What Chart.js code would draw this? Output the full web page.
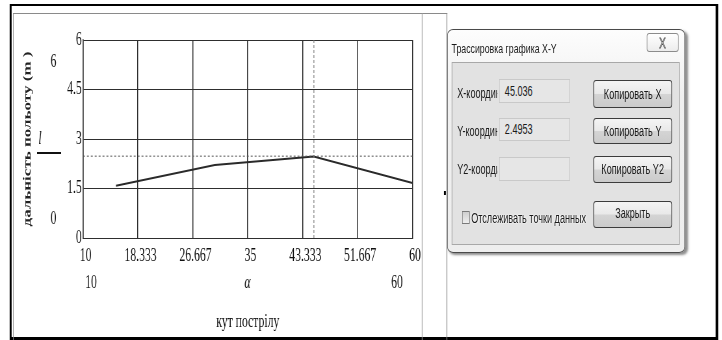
<!DOCTYPE html>
<html>
<head>
<meta charset="utf-8">
<title>дальність польоту</title>
<script src="https://cdn.jsdelivr.net/npm/chart.js@4.4.1/dist/chart.umd.min.js"></script>
<style>
  html, body { margin: 0; padding: 0; background: #fff; }
  body { width: 722px; height: 340px; overflow: hidden; position: relative; }
  /* everything is laid out 1/0.65 wider, then squeezed horizontally */
  #page { position: absolute; left: 0; top: 0; width: 1110.8px; height: 340px; transform: scaleX(0.65); transform-origin: 0 0; }
  #outer { position: absolute; left: 14.6px; top: 4px; width: 1090px; height: 336px; box-sizing: border-box;
           border-style: solid; border-color: #000; border-width: 2.5px 4.6px 3px 3px; }
  #region { position: absolute; left: 20px; top: 13px; width: 667.7px; height: 340px; box-sizing: border-box;
            border: 1px solid #8a8a8a; border-left-width: 1.5px; border-right-width: 1.5px; border-bottom: none; }
  #vline { position: absolute; left: 648.5px; top: 13px; width: 1.5px; height: 330px; background: #9a9a9a; }
  #dot { position: absolute; left: 683px; top: 191px; width: 3px; height: 4px; background: #000; }
  #myChart { position: absolute; left: 0; top: 0; }

  #dlg { position: absolute; left: 687.7px; top: 29px; width: 366px; height: 224px; box-sizing: border-box;
         border: 1px solid #4a4a4a; border-left-width: 1.5px; border-right-width: 1.5px; border-radius: 9px / 6px;
         background: linear-gradient(#fdfdfd, #f0f0f0 30%, #eeeeee); box-shadow: 3px 2px 3px rgba(0,0,0,0.45);
         font-family: "Liberation Sans", Arial, sans-serif; font-size: 14px; color: #1a1a1a; }
  #dlg .caption { position: absolute; left: 6px; top: 10px; line-height: 18px; font-size: 13.5px; white-space: nowrap; }
  #dlg .close { position: absolute; left: 306px; top: 3px; width: 49px; height: 19px; box-sizing: border-box;
                border: 1px solid #8c8c8c; border-radius: 4px / 3px; background: linear-gradient(#ffffff, #ececec);
                text-align: center; line-height: 17px; font-size: 15px; color: transparent; -webkit-text-stroke: 0.8px #555; }
  #dlg .panel { position: absolute; left: 6px; top: 32px; width: 351px; height: 183px; box-sizing: border-box;
                border: 1px solid #a8a8a8; background: #e2e2e2; }
  .lbl { position: absolute; left: 7.7px; width: 61.5px; overflow: hidden; white-space: nowrap; line-height: 18px; }
  .box { position: absolute; left: 72.3px; width: 109.2px; box-sizing: border-box; border: 1px solid #c9c9c9;
         background: #e6e6e6; padding-left: 7.7px; white-space: nowrap; }
  .btn { position: absolute; left: 216.9px; width: 121.5px; box-sizing: border-box; border: 1px solid #3c3c3c;
         border-left-width: 1.5px; border-right-width: 1.5px; border-radius: 4px / 3px; text-align: center; white-space: nowrap;
         background: linear-gradient(#f4f4f4, #e9e9e9 48%, #d4d4d4 52%, #cbcbcb); }
  .chk { position: absolute; left: 15.4px; top: 148px; width: 12.3px; height: 13px; box-sizing: border-box;
         border: 1px solid #7a7a7a; border-left-width: 1.5px; border-right-width: 1.5px; background: linear-gradient(#cfcfcf, #eeeeee); }
  .chktext { position: absolute; left: 29.2px; top: 146px; line-height: 18px; white-space: nowrap; text-shadow: 0 0 3px #fff, 0 0 2px #fff; }
</style>
</head>
<body>
<div id="page">
  <div id="outer"></div>
  <div id="region"></div>
  <div id="vline"></div>
  <canvas id="myChart" width="660" height="340"></canvas>
  <div id="dot"></div>
  <div id="dlg">
    <div class="caption">Трассировка графика X-Y</div>
    <div class="close">X</div>
    <div class="panel">
      <div class="lbl" style="top:21px">X-координата:</div>
      <div class="lbl" style="top:59px">Y-координата:</div>
      <div class="lbl" style="top:97px">Y2-координата:</div>
      <div class="box" id="boxX" style="top:16px;height:24px;line-height:22px"></div>
      <div class="box" id="boxY" style="top:55px;height:23px;line-height:21px"></div>
      <div class="box" style="top:94px;height:24px"></div>
      <div class="btn" style="top:17px;height:28px;line-height:26px">Копировать X</div>
      <div class="btn" style="top:55px;height:26px;line-height:24px">Копировать Y</div>
      <div class="btn" style="top:93px;height:27px;line-height:25px">Копировать Y2</div>
      <div class="btn" style="top:138px;height:27px;line-height:23px">Закрыть</div>
      <div class="chk"></div>
      <div class="chktext">Отслеживать точки данных</div>
    </div>
  </div>
</div>
<script>
// кут пострілу (deg) -> дальність польоту (m)
const angles = [15, 30, 45, 60];
const ranges = [1.58, 2.21, 2.47, 1.67];

const xTickLabels = ["10", "18.333", "26.667", "35", "43.333", "51.667", "60"];
const yTickLabels = ["0", "1.5", "3", "4.5", "6"];

// mathcad placeholders around the plot
const xRangeLabels = ["10", "60"];
const yRangeLabels = ["6", "0"];

// trace cursor position
const cursorX = 45.036;
const cursorY = 2.4953;

document.querySelector("#boxX").textContent = cursorX.toFixed(3);
document.querySelector("#boxY").textContent = cursorY.toFixed(4);

const serif = '"Liberation Serif", "Times New Roman", serif';

const traceLines = {
    id: "traceLines",
    afterDatasetsDraw(chart) {
        const { ctx, chartArea, scales } = chart;
        const px = scales.x.getPixelForValue(cursorX);
        const py = scales.y.getPixelForValue(cursorY);
        ctx.save();
        ctx.strokeStyle = "#555";
        ctx.setLineDash([3, 3]);
        ctx.lineWidth = 1;
        ctx.beginPath();
        ctx.moveTo(chartArea.left, py + 0.5);
        ctx.lineTo(chartArea.right, py + 0.5);
        ctx.stroke();
        ctx.strokeStyle = "#777";
        ctx.setLineDash([3, 2]);
        ctx.lineWidth = 1.2;
        ctx.beginPath();
        ctx.moveTo(px, chartArea.top);
        ctx.lineTo(px, chartArea.bottom);
        ctx.stroke();
        ctx.restore();
    },
};

const extraLabels = {
    id: "extraLabels",
    afterDraw(chart) {
        const ctx = chart.ctx;
        ctx.save();
        ctx.fillStyle = "#111";
        ctx.textAlign = "center";
        ctx.textBaseline = "middle";
        ctx.font = "18px " + serif;
        ctx.fillText(yRangeLabels[0], 82.3, 62);
        ctx.fillText(yRangeLabels[1], 82.3, 219);
        ctx.fillText(xRangeLabels[0], 140, 283);
        ctx.fillText(xRangeLabels[1], 610.8, 283);
        ctx.font = "italic 18px " + serif;
        ctx.fillText("l", 61.5, 139);
        ctx.fillText("α", 380.8, 283);
        // the division bar under l
        ctx.fillRect(57, 152, 37, 2);
        ctx.restore();
    },
};

const ctx = document.querySelector("#myChart").getContext("2d");
const myChart = new Chart(ctx, {
    type: "line",
    data: {
        datasets: [
            {
                data: angles.map((a, i) => ({ x: a, y: ranges[i] })),
                borderColor: "#2a2a2a",
                borderWidth: 2,
                pointRadius: 0,
                tension: 0,
            },
        ],
    },
    options: {
        responsive: false,
        animation: false,
        events: [],
        layout: { padding: { left: 0, top: 40, right: 25.4, bottom: 0 } },
        plugins: { legend: { display: false }, tooltip: { enabled: false } },
        scales: {
            x: {
                type: "linear",
                min: 10,
                max: 60,
                afterBuildTicks: (axis) => {
                    axis.ticks = xTickLabels.map((t) => ({ value: parseFloat(t) }));
                },
                afterFit: (axis) => {
                    axis.height = 102;
                },
                ticks: {
                    callback: (value, index) => xTickLabels[index],
                    color: "#111",
                    font: { family: serif, size: 18 },
                    padding: 7,
                    labelOffset: 4,
                    maxRotation: 0,
                    autoSkip: false,
                },
                grid: { color: "#2e2e2e", lineWidth: 1.5, drawTicks: false },
                border: { color: "#2e2e2e", width: 1 },
                title: {
                    display: true,
                    text: "кут пострілу",
                    color: "#111",
                    font: { family: serif, size: 18 },
                    padding: { top: 0, bottom: 7 },
                },
            },
            y: {
                min: 0,
                max: 6,
                afterBuildTicks: (axis) => {
                    axis.ticks = yTickLabels.map((t) => ({ value: parseFloat(t) }));
                },
                afterFit: (axis) => {
                    axis.width = 127.7;
                },
                ticks: {
                    callback: (value, index) => yTickLabels[index],
                    color: "#111",
                    font: { family: serif, size: 18 },
                    padding: 2,
                },
                grid: { color: "#2e2e2e", lineWidth: 1, drawTicks: false },
                border: { color: "#2e2e2e", width: 1.5 },
                title: {
                    display: true,
                    text: "дальність польоту (m )",
                    color: "#222",
                    font: { family: serif, size: 17, weight: "bold" },
                    padding: { top: 32, bottom: 0 },
                },
            },
        },
    },
    plugins: [traceLines, extraLabels],
});
</script>
</body>
</html>
